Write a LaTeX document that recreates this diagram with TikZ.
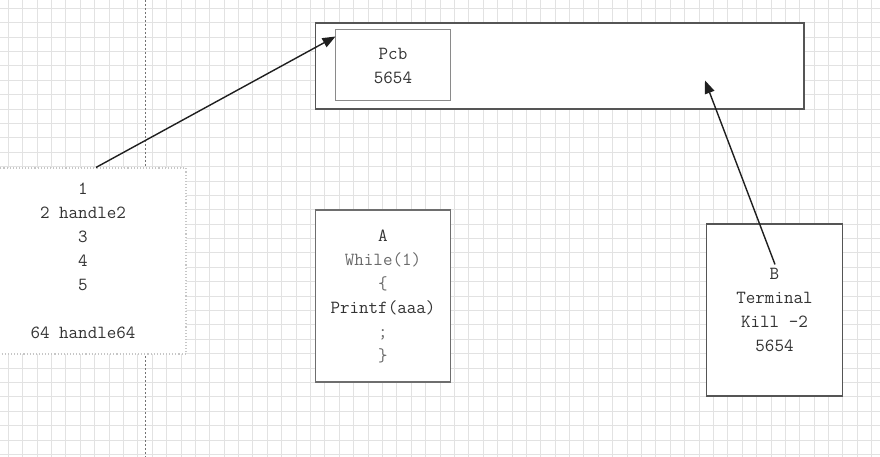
\documentclass[tikz,border=0pt]{standalone}
\usepackage{fontspec}
\usetikzlibrary{arrows.meta,calc}
\definecolor{gridc}{HTML}{E2E2E2}
\definecolor{darkb}{HTML}{555555}
\definecolor{midb}{HTML}{8A8A8A}
\definecolor{txt}{HTML}{333333}
\definecolor{txtl}{HTML}{6A6A6A}
\begin{document}
\begin{tikzpicture}[x=1pt,y=-1pt,
  panel/.style={draw=#1, fill=white, line width=1.1pt, inner sep=0pt, align=center,
    font=\ttfamily\fontsize{18.5}{24}\selectfont, text=txt},
  conn/.style={line width=1.4pt, draw=black!88, -{Triangle[length=13pt,width=10pt]}},
  gridline/.style={draw=gridc, line width=0.9pt}
]
\useasboundingbox (0,0) rectangle (880,457);
\fill[white] (0,0) rectangle (880,457);
% grid
\foreach \i in {0,...,60} \draw[gridline] ({8.3+14.39*\i},0) -- ++(0,457);
\foreach \j in {0,...,31} \draw[gridline] (0,{8.3+14.39*\j}) -- ++(880,0);
% dashed separator
\draw[dash pattern=on 2pt off 2pt, black!55, line width=0.8pt] (145.5,0) -- (145.5,457);

% handle table
\node[panel=gray!45, dotted, minimum width=206pt, minimum height=186pt] (tbl) at (83,261)
  {1\\2 handle2\\3\\4\\5\\\strut\\64 handle64};

% PCB area
\node[panel=darkb, minimum width=488.5pt, minimum height=86pt] (area) at (559.75,66) {};
\node[panel=midb, line width=1pt, minimum width=115pt, minimum height=71pt] (pcb) at (393,65.5)
  {Pcb\\5654};

% process A
\node[panel=darkb!85, minimum width=135pt, minimum height=172pt] (procA) at (383,296)
  {A\\{\color{txtl}While(1)}\\{\color{txtl}\{}\\Printf(aaa)\\{\color{txtl};}\\{\color{txtl}\}}};

% process B
\node[panel=darkb, minimum width=136pt, minimum height=172pt] (procB) at (774.5,310)
  {B\\Terminal\\Kill -2\\5654};

% connectors
\coordinate (s1) at ($(tbl.north)+(13,0)$);
\coordinate (e1) at ($(pcb.north west)+(0.5,7)$);
\draw[conn] (s1) -- (e1);
\coordinate (s2) at ($(procB.north)+(0.5,41)$);
\coordinate (e2) at ($(area.north)+(145.25,58)$);
\draw[conn] (s2) -- (e2);
\end{tikzpicture}
\end{document}
